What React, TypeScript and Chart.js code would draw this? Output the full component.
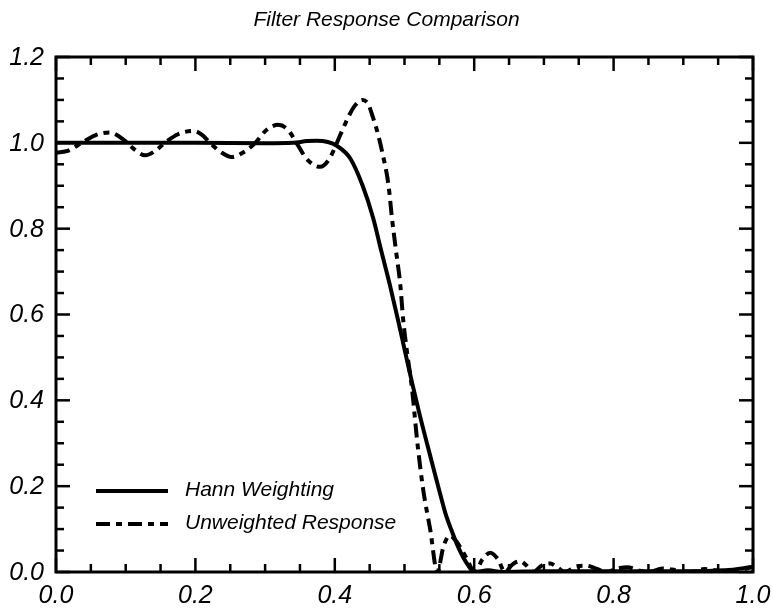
import { useEffect, useRef } from "react";
import { Chart, registerables } from "chart.js";

Chart.register(...registerables);

// Hann-weighted filter magnitude response
const hannFreq = [
  0.0, 0.1, 0.2, 0.3, 0.34, 0.36, 0.374, 0.39, 0.403, 0.422, 0.44, 0.455, 0.467,
  0.479, 0.491, 0.501, 0.511, 0.522, 0.537, 0.551, 0.56, 0.568, 0.576, 0.584, 0.592,
  0.6, 0.62, 0.64, 0.7, 0.8, 0.9, 0.96, 1.0,
];
const hannGain = [
  1.0, 1.0, 1.0, 0.999, 1.0, 1.004, 1.005, 1.002, 0.993, 0.964, 0.9, 0.825, 0.746,
  0.669, 0.585, 0.512, 0.44, 0.365, 0.27, 0.183, 0.13, 0.095, 0.062, 0.035, 0.014,
  0.0, 0.004, 0.0, 0.002, 0.002, 0.002, 0.004, 0.012,
];

// Unweighted (rectangular window) magnitude response
const rawFreq = [
  0.0, 0.018, 0.037, 0.057, 0.077, 0.098, 0.113, 0.128, 0.143, 0.156, 0.175, 0.197,
  0.21, 0.221, 0.237, 0.252, 0.27, 0.286, 0.302, 0.319, 0.333, 0.345, 0.36, 0.379,
  0.392, 0.403, 0.415, 0.428, 0.44, 0.448, 0.455, 0.462, 0.468, 0.477, 0.482, 0.488,
  0.494, 0.498, 0.503, 0.511, 0.518, 0.527, 0.537, 0.547, 0.556, 0.565, 0.575, 0.588,
  0.601, 0.612, 0.623, 0.634, 0.644, 0.655, 0.666, 0.675, 0.684, 0.697, 0.709, 0.72,
  0.73, 0.745, 0.76, 0.775, 0.79, 0.805, 0.82, 0.835, 0.85, 0.87, 0.89, 0.91, 0.93,
  0.95, 0.97, 0.985, 1.0,
];
const rawGain = [
  0.977, 0.982, 1.0, 1.018, 1.024, 1.006, 0.984, 0.971, 0.982, 1.0, 1.02, 1.028,
  1.018, 1.0, 0.978, 0.967, 0.979, 1.0, 1.03, 1.042, 1.03, 1.0, 0.962, 0.944,
  0.962, 1.0, 1.045, 1.085, 1.1, 1.09, 1.058, 1.02, 0.979, 0.902, 0.825, 0.746,
  0.669, 0.59, 0.52, 0.424, 0.308, 0.19, 0.098, 0.0, 0.06, 0.085, 0.07, 0.035,
  0.0, 0.03, 0.045, 0.03, 0.0, 0.018, 0.025, 0.015, 0.0, 0.015, 0.02, 0.01,
  0.0, 0.012, 0.015, 0.008, 0.0, 0.008, 0.011, 0.004, 0.0, 0.008, 0.004, 0.0, 0.007,
  0.003, 0.0, 0.006, 0.012,
];

const seriesNames = ["Hann Weighting", "Unweighted Response"];
const chartTitle = "Filter Response Comparison";

const xTickValues = [0.0, 0.2, 0.4, 0.6, 0.8, 1.0];
const xTickLabels = ["0.0", "0.2", "0.4", "0.6", "0.8", "1.0"];
const yTickValues = [0.0, 0.2, 0.4, 0.6, 0.8, 1.0, 1.2];
const yTickLabels = ["0.0", "0.2", "0.4", "0.6", "0.8", "1.0", "1.2"];

const DASH_DOT = [14, 6, 6, 6];
const LINE_WIDTH = 4;
const FONT_FAMILY = '"Liberation Sans", Arial, Helvetica, sans-serif';

const framePlugin = {
  id: "frameAndAnnotations",
  afterDatasetsDraw(chart: any) {
    const { ctx, chartArea: a, scales } = chart;
    const xs = scales.x;
    const ys = scales.y;
    const seg = (x1: number, y1: number, x2: number, y2: number) => {
      ctx.beginPath();
      ctx.moveTo(x1, y1);
      ctx.lineTo(x2, y2);
      ctx.stroke();
    };

    ctx.save();
    ctx.strokeStyle = "#000";
    ctx.fillStyle = "#000";
    ctx.setLineDash([]);

    // box
    ctx.lineWidth = 3;
    ctx.strokeRect(a.left, a.top, a.right - a.left, a.bottom - a.top);

    // inward ticks: major every 0.2, minor every 0.05
    ctx.lineWidth = 2.5;
    for (let i = 0; i <= 20; i++) {
      const px = xs.getPixelForValue(i * 0.05);
      const len = i % 4 === 0 ? 14 : 8;
      seg(px, a.bottom, px, a.bottom - len);
      seg(px, a.top, px, a.top + len);
    }
    for (let i = 0; i <= 24; i++) {
      const py = ys.getPixelForValue(i * 0.05);
      const len = i % 4 === 0 ? 14 : 8;
      seg(a.left, py, a.left + len, py);
      seg(a.right, py, a.right - len, py);
    }

    // tick labels
    ctx.font = `italic 25px ${FONT_FAMILY}`;
    ctx.textAlign = "right";
    ctx.textBaseline = "middle";
    yTickValues.forEach((v, i) => {
      ctx.fillText(yTickLabels[i], a.left - 12, ys.getPixelForValue(v) + 1);
    });
    ctx.textAlign = "center";
    ctx.textBaseline = "top";
    xTickValues.forEach((v, i) => {
      ctx.fillText(xTickLabels[i], xs.getPixelForValue(v), a.bottom + 12);
    });

    // title
    ctx.font = `italic 21px ${FONT_FAMILY}`;
    ctx.textAlign = "center";
    ctx.textBaseline = "middle";
    ctx.fillText(chartTitle, chart.width / 2, 20);

    // legend
    const lx0 = a.left + 40;
    const lx1 = a.left + 112;
    const rows = [a.bottom - 81, a.bottom - 48];
    ctx.font = `italic 21px ${FONT_FAMILY}`;
    ctx.textAlign = "left";
    ctx.textBaseline = "middle";
    ctx.lineWidth = LINE_WIDTH;
    rows.forEach((y, i) => {
      ctx.setLineDash(i === 0 ? [] : DASH_DOT);
      seg(lx0, y, lx1, y);
      ctx.fillText(seriesNames[i], a.left + 129, y - 1);
    });
    ctx.restore();
  },
};

export default function App() {
  const canvasRef = useRef<HTMLCanvasElement | null>(null);

  useEffect(() => {
    const canvas = canvasRef.current;
    if (!canvas) return;
    const chart = new Chart(canvas, {
      type: "line",
      data: {
        datasets: [
          {
            label: seriesNames[0],
            data: hannFreq.map((f, i) => ({ x: f, y: hannGain[i] })),
            borderColor: "#000",
            borderWidth: LINE_WIDTH,
            pointRadius: 0,
            cubicInterpolationMode: "monotone",
            fill: false,
          },
          {
            label: seriesNames[1],
            data: rawFreq.map((f, i) => ({ x: f, y: rawGain[i] })),
            borderColor: "#000",
            borderWidth: LINE_WIDTH,
            borderDash: DASH_DOT,
            pointRadius: 0,
            cubicInterpolationMode: "monotone",
            fill: false,
          },
        ],
      },
      options: {
        animation: false,
        responsive: false,
        devicePixelRatio: 1,
        layout: { padding: { left: 56, right: 20, top: 57, bottom: 40 } },
        plugins: {
          legend: { display: false },
          title: { display: false },
          tooltip: { enabled: false },
        },
        scales: {
          x: { type: "linear", min: 0, max: 1, display: false },
          y: { type: "linear", min: 0, max: 1.2, display: false },
        },
      },
      plugins: [framePlugin],
    });
    return () => chart.destroy();
  }, []);

  return (
    <div style={{ position: "absolute", left: 0, top: 0, width: 773, height: 612, background: "#fff" }}>
      <canvas ref={canvasRef} width={773} height={612} />
    </div>
  );
}
